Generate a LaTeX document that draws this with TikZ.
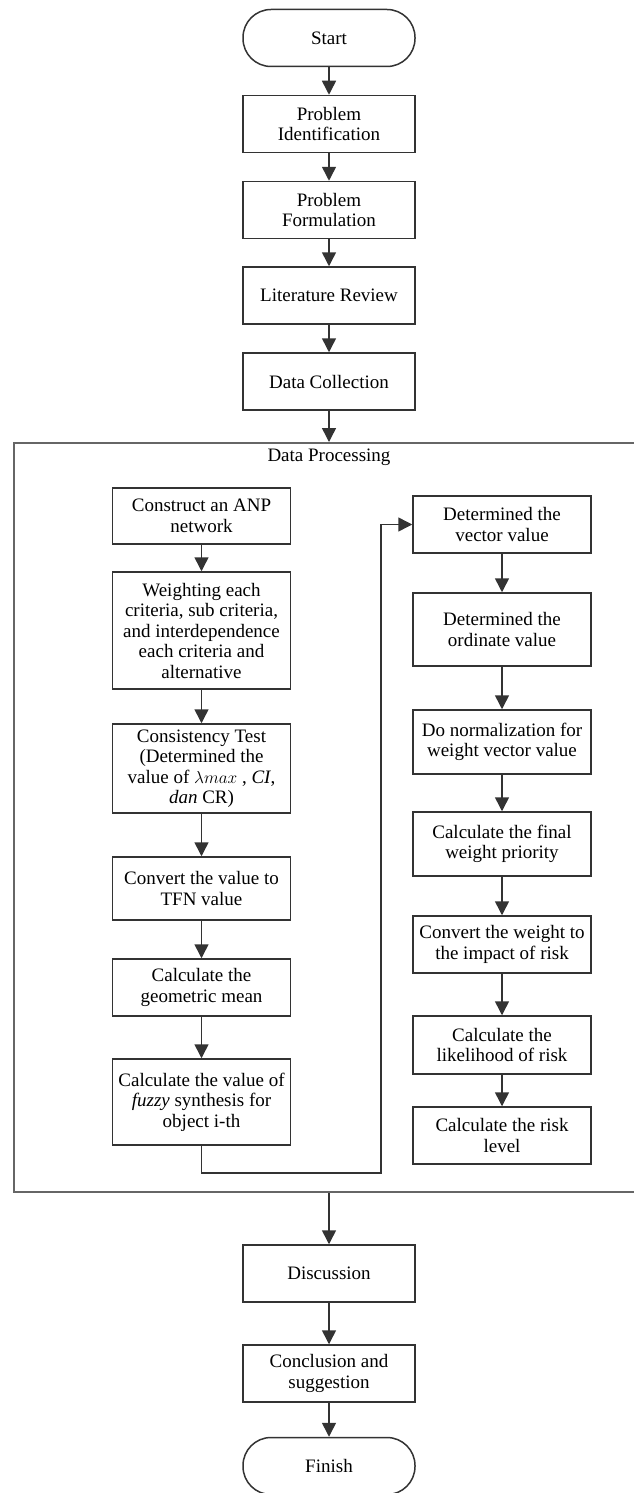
\documentclass[tikz,border=0pt]{standalone}
\usepackage{fontspec}
\setmainfont{Liberation Serif}
\usetikzlibrary{arrows.meta}

\begin{document}
\begin{tikzpicture}[x=1pt,y=1pt,line width=1.5pt,draw=black!80,
    >={Triangle[length=14pt,width=14pt]},
    box/.style={draw=black!80,rectangle,align=center,inner sep=1pt,font=\fontsize{19}{20.5}\selectfont},
    mainbox/.style={box,minimum width=172pt,minimum height=57pt},
    sidebox/.style={box,minimum width=178pt},
    term/.style={mainbox,rounded corners=28pt}]
            \useasboundingbox (0,0) rectangle (633,-1493);
            % main column
            \node[term] (1) at (329,-38) {Start};
            \node[mainbox] (2) at (329,-124) {Problem\\Identification};
            \node[mainbox] (3) at (329,-210) {Problem\\Formulation};
            \node[mainbox] (4) at (329,-295.5) {Literature Review};
            \node[mainbox] (5) at (329,-381.5) {Data Collection};
            \node[draw=black!60,line width=2pt,minimum width=630pt,minimum height=749pt] (6) at (329,-817.5) {};
            \node[font=\fontsize{19}{20.5}\selectfont] (7) at (329,-457) {Data Processing};
            \node[mainbox] (8) at (329,-1273.5) {Discussion};
            \node[mainbox] (9) at (329,-1373.5) {Conclusion and\\suggestion};
            \node[term] (10) at (329,-1466) {Finish};
            % left column
            \node[sidebox,minimum height=56pt] (11) at (201.5,-516) {Construct an ANP\\network};
            \node[sidebox,minimum height=117pt] (12) at (201.5,-630.5) {Weighting each\\criteria, sub criteria,\\and interdependence\\each criteria and\\alternative};
            \node[sidebox,minimum height=89pt] (13) at (201.5,-768.5) {Consistency Test\\(Determined the\\value of $\lambda max$ , \textit{CI},\\\textit{dan} CR)};
            \node[sidebox,minimum height=63pt] (14) at (201.5,-888.5) {Convert the value to\\TFN value};
            \node[sidebox,minimum height=57pt] (15) at (201.5,-987.5) {Calculate the\\geometric mean};
            \node[sidebox,minimum height=86pt] (16) at (201.5,-1102) {Calculate the value of\\\textit{fuzzy} synthesis for\\object i-th};
            % right column
            \node[sidebox,minimum height=57pt] (21) at (502,-524.5) {Determined the\\vector value};
            \node[sidebox,minimum height=73pt] (22) at (502,-629.5) {Determined the\\ordinate value};
            \node[sidebox,minimum height=64pt] (23) at (502,-742) {Do normalization for\\weight vector value};
            \node[sidebox,minimum height=64pt] (24) at (502,-844) {Calculate the final\\weight priority};
            \node[sidebox,minimum height=57pt] (25) at (502,-944.5) {Convert the weight to\\the impact of risk};
            \node[sidebox,minimum height=58pt] (26) at (502,-1045) {Calculate the\\likelihood of risk};
            \node[sidebox,minimum height=57pt] (27) at (502,-1135.5) {Calculate the risk\\level};
            \coordinate (bend) at (381,-1173);
            \draw[->] (1) to (2);
            \draw[->] (2) to (3);
            \draw[->] (3) to (4);
            \draw[->] (4) to (5);
            \draw[->] (5) to (6);
            \draw[->] (6) to (8);
            \draw[->] (8) to (9);
            \draw[->] (9) to (10);
            \draw[->] (11) to (12);
            \draw[->] (12) to (13);
            \draw[->] (13) to (14);
            \draw[->] (14) to (15);
            \draw[->] (15) to (16);
            \draw[->] (16.south) |- (bend) |- (21.west);
            \draw[->] (21) to (22);
            \draw[->] (22) to (23);
            \draw[->] (23) to (24);
            \draw[->] (24) to (25);
            \draw[->] (25) to (26);
            \draw[->] (26) to (27);
        \end{tikzpicture}
\end{document}
